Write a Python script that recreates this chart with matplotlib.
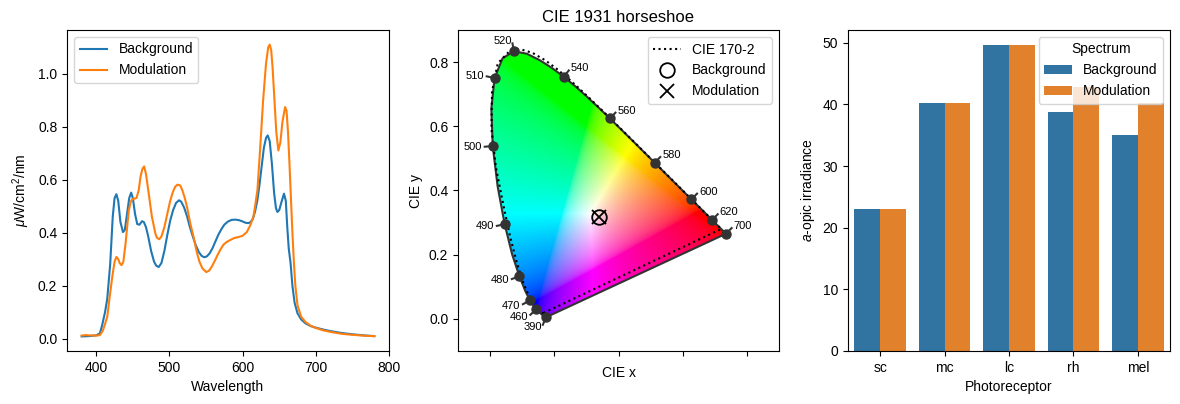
import numpy as np
import matplotlib
matplotlib.use('Agg')
import matplotlib.pyplot as plt
from matplotlib.patches import Polygon

plt.rcParams['font.family'] = ['Liberation Sans', 'DejaVu Sans']
plt.rcParams['mathtext.fontset'] = 'custom'
plt.rcParams['mathtext.rm'] = 'Liberation Sans'
plt.rcParams['mathtext.it'] = 'Liberation Sans:italic'
plt.rcParams['font.size'] = 10

# ---------------- spectra ----------------
bg_wl = [380, 390, 400, 405, 408, 412, 415, 419, 422.5, 425, 427.5, 430, 433, 436.5, 439, 442, 445,
         447.7, 450, 453, 456, 459, 462.5, 465, 468, 471, 475, 479, 482, 485.3, 489, 493, 497, 501,
         505, 509, 513, 516, 520, 524, 528, 532, 536, 540, 544, 547.5, 551, 555, 559, 563, 567, 571,
         575, 580, 585, 590, 595, 600, 604, 608, 611, 614, 617, 620, 623, 626, 629, 632, 634.3, 637,
         640, 643, 645.5, 647.5, 650, 653, 656.5, 659, 661, 663, 665.5, 668, 671, 675, 680, 686, 693,
         700, 710, 720, 735, 750, 765, 780]
bg_val = [0.008, 0.009, 0.012, 0.02, 0.05, 0.10, 0.15, 0.28, 0.46, 0.53, 0.545, 0.52, 0.44, 0.402,
          0.41, 0.47, 0.53, 0.551, 0.53, 0.47, 0.432, 0.43, 0.443, 0.44, 0.42, 0.385, 0.33, 0.29,
          0.275, 0.27, 0.285, 0.33, 0.39, 0.445, 0.485, 0.512, 0.522, 0.517, 0.495, 0.462, 0.42,
          0.385, 0.352, 0.327, 0.312, 0.307, 0.31, 0.322, 0.342, 0.368, 0.393, 0.413, 0.43, 0.442,
          0.448, 0.449, 0.447, 0.442, 0.437, 0.436, 0.44, 0.452, 0.48, 0.52, 0.58, 0.65, 0.72, 0.758,
          0.767, 0.745, 0.66, 0.55, 0.493, 0.478, 0.485, 0.515, 0.547, 0.52, 0.42, 0.34, 0.285, 0.2,
          0.135, 0.095, 0.072, 0.057, 0.047, 0.041, 0.034, 0.028, 0.021, 0.016, 0.012, 0.009]

mod_wl = [380, 385, 390, 400, 405, 409, 412, 415, 418, 421.8, 425, 427.5, 430, 432, 434.5, 437, 440,
          442.5, 444.5, 447, 449, 452, 455, 458, 460.4, 463, 465.4, 468, 471.7, 476, 480.8, 483,
          486, 489, 493, 497, 501, 505, 508, 511, 514.8, 518, 521, 524, 528.5, 533, 537, 541, 545,
          550.3, 554, 558, 562, 566, 570, 574, 578.5, 583, 589, 594, 600, 605.7, 610, 614.7, 617,
          620.2, 624, 628, 632, 635, 637, 639, 641, 643.5, 646, 648.8, 651.5, 654.5, 658, 660, 662,
          664, 666, 668, 670, 672, 675, 680, 686, 693, 700, 710, 720, 735, 750, 765, 780]
mod_val = [0.011, 0.013, 0.012, 0.011, 0.013, 0.03, 0.055, 0.082, 0.15, 0.232, 0.29, 0.308, 0.3,
           0.285, 0.277, 0.29, 0.358, 0.43, 0.484, 0.515, 0.526, 0.528, 0.531, 0.56, 0.61, 0.64,
           0.65, 0.62, 0.547, 0.46, 0.396, 0.38, 0.375, 0.385, 0.42, 0.47, 0.52, 0.556, 0.574,
           0.581, 0.578, 0.557, 0.53, 0.497, 0.434, 0.383, 0.33, 0.29, 0.265, 0.251, 0.256, 0.272,
           0.294, 0.317, 0.338, 0.355, 0.365, 0.372, 0.38, 0.383, 0.388, 0.402, 0.425, 0.459, 0.5,
           0.56, 0.72, 0.9, 1.04, 1.10, 1.11, 1.09, 1.02, 0.9, 0.78, 0.71, 0.74, 0.82, 0.874, 0.86,
           0.78, 0.66, 0.53, 0.40, 0.29, 0.20, 0.125, 0.082, 0.062, 0.048, 0.04, 0.031, 0.025,
           0.018, 0.014, 0.011, 0.009]

# ---------------- chromaticity ----------------
locus_wl = list(range(390, 705, 5))
cie1931_x = [0.1738, 0.1736, 0.1733, 0.1730, 0.1726, 0.1721, 0.1714, 0.1703, 0.1689, 0.1669, 0.1644,
             0.1611, 0.1566, 0.1510, 0.1440, 0.1355, 0.1241, 0.1096, 0.0913, 0.0687, 0.0454, 0.0235,
             0.0082, 0.0039, 0.0139, 0.0389, 0.0743, 0.1142, 0.1547, 0.1929, 0.2296, 0.2658, 0.3016,
             0.3373, 0.3731, 0.4087, 0.4441, 0.4788, 0.5125, 0.5448, 0.5752, 0.6029, 0.6270, 0.6482,
             0.6658, 0.6801, 0.6915, 0.7006, 0.7079, 0.7140, 0.7190, 0.7230, 0.7260, 0.7283, 0.7300,
             0.7311, 0.7320, 0.7327, 0.7334, 0.7340, 0.7344, 0.7346, 0.7347]
cie1931_y = [0.0049, 0.0049, 0.0048, 0.0048, 0.0048, 0.0048, 0.0051, 0.0058, 0.0069, 0.0086, 0.0109,
             0.0138, 0.0177, 0.0227, 0.0297, 0.0399, 0.0578, 0.0868, 0.1327, 0.2007, 0.2950, 0.4127,
             0.5384, 0.6548, 0.7502, 0.8120, 0.8338, 0.8262, 0.8059, 0.7816, 0.7543, 0.7243, 0.6923,
             0.6589, 0.6245, 0.5896, 0.5547, 0.5202, 0.4866, 0.4544, 0.4242, 0.3965, 0.3725, 0.3514,
             0.3340, 0.3197, 0.3083, 0.2993, 0.2920, 0.2859, 0.2809, 0.2770, 0.2740, 0.2717, 0.2700,
             0.2689, 0.2680, 0.2673, 0.2666, 0.2660, 0.2656, 0.2654, 0.2653]

cie170_x = [0.1664, 0.1660, 0.1650, 0.1639, 0.1630, 0.1613, 0.1596, 0.1575, 0.1554, 0.1528, 0.1504,
            0.1475, 0.1442, 0.1400, 0.1339, 0.1264, 0.1157, 0.1008, 0.0830, 0.0630, 0.0410, 0.0180,
            0.0042, 0.0060, 0.0238, 0.0578, 0.0932, 0.1323, 0.1709, 0.2067, 0.2432, 0.2781, 0.3116,
            0.3452, 0.3806, 0.4145, 0.4500, 0.4843, 0.5181, 0.5503, 0.5776, 0.6025, 0.6246, 0.6441,
            0.6600, 0.6729, 0.6837, 0.6940, 0.7040, 0.7110, 0.7165, 0.7200]
cie170_y = [0.0183, 0.0187, 0.0183, 0.0172, 0.0165, 0.0159, 0.0159, 0.0165, 0.0177, 0.0197, 0.0217,
            0.0248, 0.0289, 0.0358, 0.0459, 0.0604, 0.0832, 0.1198, 0.1760, 0.2536, 0.3558, 0.4729,
            0.5919, 0.7089, 0.7962, 0.8313, 0.8406, 0.8286, 0.8062, 0.7798, 0.7491, 0.7174, 0.6858,
            0.6533, 0.6185, 0.5850, 0.5497, 0.5155, 0.4818, 0.4496, 0.4224, 0.3975, 0.3754, 0.3559,
            0.3400, 0.3271, 0.3163, 0.3060, 0.2960, 0.2890, 0.2835, 0.2800]

label_wl = [390, 460, 470, 480, 490, 500, 510, 520, 540, 560, 580, 600, 620, 700]
background_xy = [0.339, 0.319]
modulation_xy = [0.340, 0.318]

# ---------------- a-opic ----------------
receptors = ['sc', 'mc', 'lc', 'rh', 'mel']
bg_irr = [23.0, 40.3, 49.6, 38.7, 35.0]
mod_irr = [23.0, 40.3, 49.6, 42.8, 40.3]

# ================= figure =================
FW, FH = 1180, 404
fig = plt.figure(figsize=(FW / 100, FH / 100), dpi=100)


def box(l, t, r, b):
    return [l / FW, 1 - b / FH, (r - l) / FW, (b - t) / FH]


ax1 = fig.add_axes(box(67, 30, 389, 351))
ax2 = fig.add_axes(box(458, 30, 779, 351))
ax3 = fig.add_axes(box(848, 30, 1170, 351))

# ---- panel 1
ax1.plot(bg_wl, bg_val, color='tab:blue', lw=1.5, label='Background')
ax1.plot(mod_wl, mod_val, color='tab:orange', lw=1.5, label='Modulation')
ax1.set_xlabel('Wavelength')
ax1.set_ylabel(r'$\mu$W/cm$^2$/nm')
ax1.set_xticks([400, 500, 600, 700, 800])
ax1.legend(loc='upper left')

# ---- panel 2 : chromaticity colours computed per pixel (XYZ -> sRGB, max-normalised)
M = np.array([[3.2406, -1.5372, -0.4986],
              [-0.9689, 1.8758, 0.0415],
              [0.0557, -0.2040, 1.0570]])
N = 800
g = np.linspace(-0.1, 0.9, N)
GX, GY = np.meshgrid(g, g)
GYs = np.where(GY > 1e-4, GY, 1e-4)
XYZ = np.stack([GX / GYs, np.ones_like(GX), (1 - GX - GYs) / GYs], axis=-1)
lin = XYZ @ M.T
mx = np.max(lin, axis=-1, keepdims=True)
mx = np.where(mx > 1e-9, mx, 1.0)
lin = np.clip(lin / mx, 0, 1)
enc = np.where(lin <= 0.0031308, 12.92 * lin, 1.055 * lin ** (1 / 2.4) - 0.055)
rgba = np.dstack([enc, np.ones((N, N))])

locus = np.column_stack([cie1931_x, cie1931_y])
im = ax2.imshow(rgba, extent=(-0.1, 0.9, -0.1, 0.9), origin='lower', interpolation='bilinear',
                aspect='auto', zorder=1)
clip_poly = Polygon(locus, closed=True, transform=ax2.transData)
im.set_clip_path(clip_poly)

loc_closed = np.vstack([locus, locus[:1]])
ax2.plot(loc_closed[:, 0], loc_closed[:, 1], color='#333333', lw=1.5, zorder=2)
c170 = np.column_stack([cie170_x, cie170_y])
c170 = np.vstack([c170, c170[:1]])
ax2.plot(c170[:, 0], c170[:, 1], ':', color='black', lw=1.5, zorder=3, label='CIE 170-2')

ee = np.array([1 / 3, 1 / 3])
for wl in label_wl:
    i = locus_wl.index(wl)
    n = len(locus)
    step = 1
    while True:
        lo, hi = max(i - step, 0), min(i + step, n - 1)
        t = locus[hi] - locus[lo]
        if np.hypot(*t) > 0.005:
            break
        step += 1
    nrm = np.array([-t[1], t[0]])
    if np.dot(nrm, locus[i] - ee) < 0:
        nrm = -nrm
    nrm = nrm / np.hypot(*nrm) / 30
    px, py = locus[i]
    ax2.plot([px, px + nrm[0] * 0.75], [py, py + nrm[1] * 0.75], color='#333333', lw=1.5, zorder=4)
    ax2.plot(px, py, 'o', color='#333333', ms=6.5, zorder=4)
    ax2.text(px + nrm[0], py + nrm[1], str(wl), fontsize=8, ha='left' if nrm[0] >= 0 else 'right',
             va='center', zorder=5)

ax2.plot(background_xy[0], background_xy[1], 'o', mfc='none', mec='black', ms=10.5, mew=1.3,
         ls='none', zorder=6, label='Background')
ax2.plot(modulation_xy[0], modulation_xy[1], 'x', color='black', ms=10.5, mew=1.3,
         ls='none', zorder=6, label='Modulation')
ax2.set_xlim(-0.1, 0.9)
ax2.set_ylim(-0.1, 0.9)
ax2.set_xticks([0.0, 0.2, 0.4, 0.6, 0.8])
ax2.set_xticklabels([])
ax2.set_yticks([0.0, 0.2, 0.4, 0.6, 0.8])
ax2.set_xlabel('CIE x')
ax2.set_ylabel('CIE y')
ax2.set_title('CIE 1931 horseshoe', fontsize=12)
ax2.legend(loc='upper right')

# ---- panel 3
xpos = np.arange(len(receptors))
ax3.bar(xpos - 0.2, bg_irr, 0.4, color='#3274a1', label='Background')
ax3.bar(xpos + 0.2, mod_irr, 0.4, color='#e1812c', label='Modulation')
ax3.set_xlim(-0.5, len(receptors) - 0.5)
ax3.set_xticks(xpos)
ax3.set_xticklabels(receptors)
ax3.set_xlabel('Photoreceptor')
ax3.set_ylabel(r'$a$-opic irradiance')
ax3.legend(title='Spectrum', loc='upper right')

fig.savefig('out.png', dpi=100)
